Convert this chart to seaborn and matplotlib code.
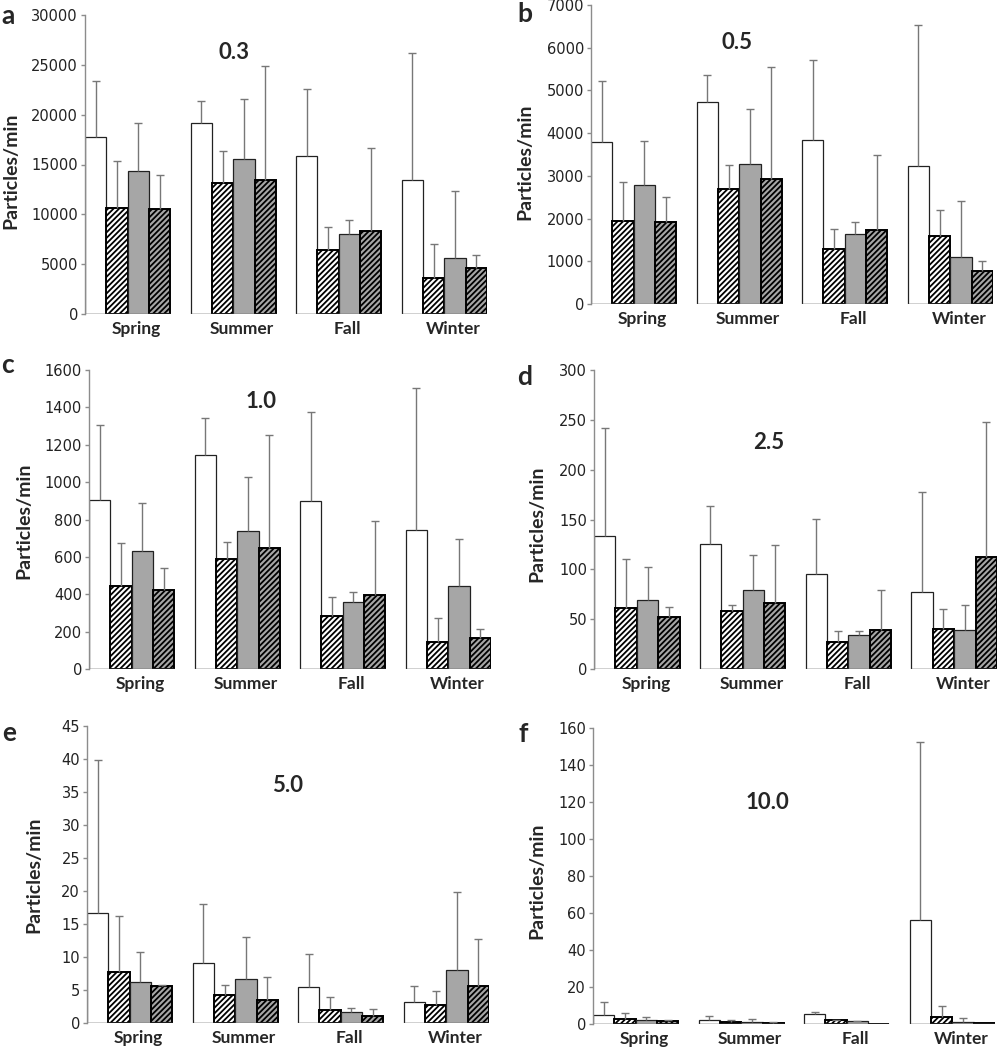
"""
Seasonal particle counts by size channel (0.3 - 10.0 um), six panels a-f.
Four sample groups per season: open / hatched / grey / grey hatched bars,
with mean + SD error bars (upper only).
"""
import numpy as np
import pandas as pd
import matplotlib
matplotlib.use('Agg')
import matplotlib.pyplot as plt
from matplotlib.transforms import ScaledTranslation
import seaborn as sns

# ---------------------------------------------------------------
# data  (rows = sample group, columns = season)
# ---------------------------------------------------------------
seasons = ["Spring", "Summer", "Fall", "Winter"]
groups = ["G1", "G2", "G3", "G4"]

mean_03 = [[17750, 19200, 15900, 13400],
           [10600, 13150, 6400, 3650],
           [14300, 15600, 8000, 5600],
           [10500, 13400, 8300, 4600]]
sd_03 = [[5650, 2200, 6650, 12800],
         [4750, 3200, 2350, 3350],
         [4900, 6000, 1450, 6700],
         [3400, 11450, 8400, 1300]]

mean_05 = [[3800, 4740, 3840, 3220],
           [1950, 2700, 1290, 1600],
           [2790, 3270, 1640, 1110],
           [1930, 2920, 1740, 780]]
sd_05 = [[1420, 610, 1865, 3320],
         [895, 545, 470, 610],
         [1030, 1285, 270, 1310],
         [580, 2640, 1745, 220]]

mean_10 = [[903, 1143, 899, 742],
           [446, 587, 282, 143],
           [633, 738, 360, 442],
           [423, 647, 394, 166]]
sd_10 = [[403, 198, 474, 760],
         [230, 91, 103, 132],
         [255, 289, 50, 255],
         [119, 603, 396, 48]]

mean_25 = [[133, 125, 95, 77],
           [61.5, 58.5, 27, 40.5],
           [69, 79, 34, 39.5],
           [52, 66, 39, 112]]
sd_25 = [[109, 39, 56, 101],
         [49, 6, 11.5, 20],
         [33, 35, 4, 25],
         [10, 58, 40, 135.5]]

mean_50 = [[16.7, 9.1, 5.4, 3.2],
           [7.8, 4.3, 1.9, 2.7],
           [6.2, 6.7, 1.7, 8.1],
           [5.6, 3.5, 1.0, 5.6]]
sd_50 = [[23.1, 8.9, 5.0, 2.4],
         [8.4, 1.4, 2.0, 2.2],
         [4.6, 6.4, 0.6, 11.8],
         [0.2, 3.5, 1.1, 7.2]]

mean_100 = [[5.0, 2.0, 5.4, 56.1],
            [2.7, 1.1, 2.2, 3.8],
            [2.0, 1.1, 1.6, 1.1],
            [1.4, 0.7, 0.0, 0.3]]
sd_100 = [[6.9, 2.1, 1.1, 96.2],
          [3.2, 0.9, 0.1, 5.7],
          [1.8, 1.8, 0.2, 2.0],
          [0.9, 0.4, 0.0, 0.0]]

# letter, size label, means, sds, y max, y step
panels = [
    ("a", "0.3", mean_03, sd_03, 30000, 5000),
    ("b", "0.5", mean_05, sd_05, 7000, 1000),
    ("c", "1.0", mean_10, sd_10, 1600, 200),
    ("d", "2.5", mean_25, sd_25, 300, 50),
    ("e", "5.0", mean_50, sd_50, 45, 5),
    ("f", "10.0", mean_100, sd_100, 160, 20),
]

# ---------------------------------------------------------------
# layout (pixels in a 998 x 1050 figure)
# ---------------------------------------------------------------
W, H = 998, 1050
ax_px = [(85, 15, 487, 314), (591, 5, 993, 304),
         (89, 370, 491, 669), (594, 370, 997, 669),
         (87, 726, 489, 1023), (593, 728, 995, 1024)]
letter_px = [(8, 16), (525, 14), (8, 365), (525, 377), (9, 733), (523, 734)]
title_pos = [(0.371, 0.873), (0.363, 0.873), (0.428, 0.893),
             (0.434, 0.756), (0.498, 0.798), (0.433, 0.747)]
ylabel_pos = [(-0.184, 0.478), (-0.164, 0.475), (-0.162, 0.495),
              (-0.141, 0.485), (-0.132, 0.498), (-0.139, 0.483)]

sns.set_style("white")
plt.rcParams['font.family'] = ['DejaVu Sans']
plt.rcParams['hatch.color'] = 'black'
plt.rcParams['hatch.linewidth'] = 1.3
LABEL_FONT = ['Lato', 'DejaVu Sans']

fills = {"G1": "white", "G2": "white", "G3": "#a6a6a6", "G4": "#a6a6a6"}
hatches = ["", "//////", "", "//////"]
axis_grey = "#8c8c8c"

fig = plt.figure(figsize=(W / 100, H / 100), dpi=100)

for i, (letter, size, means, sds, ymax, ystep) in enumerate(panels):
    l, t, r, b = ax_px[i]
    ax = fig.add_axes([l / W, 1 - b / H, (r - l) / W, (b - t) / H])

    df = pd.DataFrame([
        {"season": s, "group": g, "value": means[gi][si]}
        for gi, g in enumerate(groups) for si, s in enumerate(seasons)
    ])
    sns.barplot(data=df, x="season", y="value", hue="group",
                order=seasons, hue_order=groups, palette=fills,
                width=0.81, saturation=1, errorbar=None, legend=False,
                edgecolor="#222222", linewidth=0.9, ax=ax)
    bar_conts = list(ax.containers)

    # hatches + upper error bars, positioned from the drawn bars
    for gi, cont in enumerate(bar_conts):
        xs, ys, es = [], [], []
        for si, patch in enumerate(cont.patches):
            patch.set_hatch(hatches[gi])
            if hatches[gi]:
                patch.set_linewidth(1.4)
                patch.set_edgecolor("black")
            if sds[gi][si] > 0:
                xs.append(patch.get_x() + patch.get_width() / 2)
                ys.append(means[gi][si])
                es.append(sds[gi][si])
        if xs:
            _, caps, _ = ax.errorbar(xs, ys, yerr=[np.zeros(len(es)), es],
                                     fmt='none', ecolor="#777777",
                                     elinewidth=1.0, capsize=3, capthick=1.0)
            caps[0].set_visible(False)

    # segmented baseline under each season group (Excel style)
    for si in range(len(seasons)):
        xs0 = [c.patches[si].get_x() for c in bar_conts]
        xs1 = [c.patches[si].get_x() + c.patches[si].get_width() for c in bar_conts]
        ax.hlines(0, min(xs0), max(xs1), color=axis_grey, lw=1.0, zorder=3)

    first = bar_conts[0].patches[0]
    last = bar_conts[-1].patches[-1]
    ax.set_xlim(first.get_x(), last.get_x() + last.get_width())
    ax.set_ylim(0, ymax)
    ax.set_yticks(np.arange(0, ymax + ystep / 2, ystep))

    sns.despine(ax=ax, top=True, right=True, bottom=True)
    ax.spines['left'].set_color(axis_grey)
    ax.spines['left'].set_linewidth(1.0)
    ax.tick_params(axis='y', length=3, width=1.0, color=axis_grey,
                   labelsize=10.5, labelcolor="#222222", pad=2, left=True)
    ax.tick_params(axis='x', length=0, pad=5)
    ax.set_xlabel("")
    for lab in ax.get_xticklabels():
        lab.set_fontproperties({'family': LABEL_FONT, 'weight': 'bold', 'size': 12.5})
        lab.set_transform(lab.get_transform() +
                          ScaledTranslation(9 / 100, 0, fig.dpi_scale_trans))

    ax.set_ylabel("Particles/min", fontsize=14, fontweight='bold',
                  family=LABEL_FONT)
    ax.yaxis.label.set_va('center')
    ax.yaxis.set_label_coords(*ylabel_pos[i])

    ax.text(*title_pos[i], size, transform=ax.transAxes, ha='center',
            va='center', fontsize=16, fontweight='bold', family=LABEL_FONT)
    fig.text(letter_px[i][0] / W, 1 - letter_px[i][1] / H, letter,
             ha='center', va='center', fontsize=19, fontweight='bold',
             family=LABEL_FONT)

fig.savefig("out.png", dpi=100, facecolor="white")
